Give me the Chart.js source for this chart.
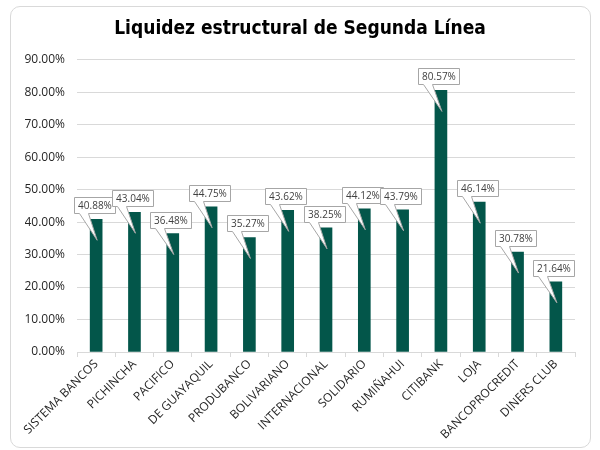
<!DOCTYPE html>
<html>
<head>
<meta charset="utf-8">
<script src="https://cdn.jsdelivr.net/npm/chart.js@4/dist/chart.umd.min.js"></script>
<style>
  body { margin: 0; background: #fff; }
  #wrap { position: relative; width: 600px; height: 450px; }
  #card {
    position: absolute; left: 10px; top: 6px; width: 581px; height: 442px;
    box-sizing: border-box; border: 1px solid #d9d9d9; border-radius: 10px;
  }
  #myChart { position: absolute; left: 0; top: 0; }
</style>
</head>
<body>
<div id="wrap">
  <div id="card"></div>
  <canvas id="myChart" width="600" height="450"></canvas>
</div>
<script>
// bank names and liquidity ratio (%)
const bancos = ['SISTEMA BANCOS', 'PICHINCHA', 'PACIFICO', 'DE GUAYAQUIL', 'PRODUBANCO',
    'BOLIVARIANO', 'INTERNACIONAL', 'SOLIDARIO', 'RUMIÑAHUI', 'CITIBANK', 'LOJA',
    'BANCOPROCREDIT', 'DINERS CLUB'];
const liquidez = [40.88, 43.04, 36.48, 44.75, 35.27, 43.62, 38.25, 44.12, 43.79, 80.57, 46.14, 30.78, 21.64];
const yTicks = [0, 10, 20, 30, 40, 50, 60, 70, 80, 90];

// callout style data labels above each bar
const calloutPlugin = {
    id: 'callouts',
    afterDatasetsDraw(chart) {
        const ctx = chart.ctx;
        const meta = chart.getDatasetMeta(0);
        ctx.save();
        ctx.font = '10px "Open Sans"';
        ctx.textAlign = 'center';
        ctx.textBaseline = 'middle';
        meta.data.forEach((bar, i) => {
            let text = liquidez[i].toFixed(2) + '%';
            let w = Math.round(ctx.measureText(text).width + 7);
            let h = 16;
            let cx = bar.x - 2;
            let bottom = Math.round(bar.y - 6) + 0.5;
            let left = Math.round(cx - w / 2) + 0.5;
            let top = bottom - h;
            ctx.beginPath();
            ctx.moveTo(left, top);
            ctx.lineTo(left + w, top);
            ctx.lineTo(left + w, bottom);
            ctx.lineTo(left + 14, bottom);
            ctx.lineTo(bar.x + 1, bar.y + 21);
            ctx.lineTo(left + 5, bottom);
            ctx.lineTo(left, bottom);
            ctx.closePath();
            ctx.fillStyle = '#ffffff';
            ctx.fill();
            ctx.strokeStyle = '#a6a6a6';
            ctx.lineWidth = 1;
            ctx.stroke();
            ctx.fillStyle = '#404040';
            ctx.fillText(text, left + w / 2, top + h / 2 + 0.5);
        });
        ctx.restore();
    }
};

const ctx = document.getElementById('myChart').getContext('2d');
const myChart = new Chart(ctx, {
    type: 'bar',
    data: {
        labels: bancos,
        datasets: [{
            data: liquidez,
            backgroundColor: '#03564a',
            barThickness: 12
        }]
    },
    options: {
        responsive: false,
        animation: false,
        layout: { padding: { left: 25, right: 25, top: 0, bottom: 0 } },
        plugins: {
            legend: { display: false },
            tooltip: { enabled: false },
            title: {
                display: true,
                text: 'Liquidez estructural de Segunda Línea',
                color: '#000000',
                font: { family: '"DejaVu Sans Condensed", "DejaVu Sans"', size: 19, weight: 'bold' },
                padding: { top: 18, bottom: 19 }
            }
        },
        scales: {
            x: {
                grid: {
                    offset: true,
                    drawOnChartArea: false,
                    drawTicks: true,
                    tickLength: 5,
                    color: '#d9d9d9'
                },
                border: { color: '#d9d9d9' },
                ticks: {
                    autoSkip: false,
                    minRotation: 45,
                    maxRotation: 45,
                    padding: 0,
                    color: '#262626',
                    font: { family: '"Open Sans"', size: 12 }
                },
                afterFit: function(scale) { scale.height = 98; }
            },
            y: {
                min: yTicks[0],
                max: yTicks[yTicks.length - 1],
                afterBuildTicks: function(scale) {
                    scale.ticks = yTicks.map(v => ({ value: v }));
                },
                grid: { color: '#d9d9d9', drawTicks: false },
                border: { display: false },
                ticks: {
                    padding: 12,
                    color: '#262626',
                    font: { family: '"Open Sans"', size: 12 },
                    callback: v => v.toFixed(2) + '%'
                },
                afterFit: function(scale) { scale.width = 52; }
            }
        }
    },
    plugins: [calloutPlugin]
});
</script>
</body>
</html>
